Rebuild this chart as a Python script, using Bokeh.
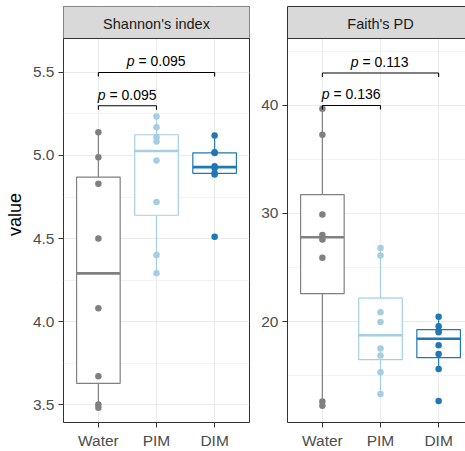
import numpy as np
from bokeh.plotting import figure
from bokeh.layouts import row
from bokeh.models import Range1d, FixedTicker, LinearAxis, NumeralTickFormatter
from bokeh.core.properties import value
from bokeh.embed import file_html
from bokeh.resources import INLINE

# ---- data -------------------------------------------------------------
groups = ["Water", "PIM", "DIM"]
group_colors = ["#808080", "#A6CEE3", "#1F78B4"]

shannon_water = [5.14, 4.99, 4.83, 4.50, 4.08, 3.67, 3.50, 3.48]
shannon_pim = [5.235, 5.17, 5.11, 5.085, 4.97, 4.72, 4.40, 4.29]
shannon_dim = [5.12, 5.02, 5.015, 4.935, 4.925, 4.895, 4.885, 4.51]

faith_water = [39.7, 37.3, 29.9, 28.0, 27.6, 25.9, 12.6, 12.2]
faith_pim = [26.8, 26.1, 20.85, 19.95, 17.5, 16.85, 15.3, 13.3]
faith_dim = [20.45, 19.55, 19.15, 19.0, 17.8, 17.0, 15.6, 12.65]

comparisons = [("Water", "PIM"), ("Water", "DIM")]
shannon_pvalues = ["0.095", "0.095"]
faith_pvalues = ["0.136", "0.113"]

shannon_ticks = [3.5, 4.0, 4.5, 5.0, 5.5]
shannon_minor = [3.75, 4.25, 4.75, 5.25]
faith_ticks = [20, 30, 40]
faith_minor = [15, 25, 35, 45]

# ---- layout / style ---------------------------------------------------
FONT = "Liberation Sans"
H = 451
TOP, BOTTOM = 6, 29
STRIP_H = 32
PANEL_H = H - TOP - BOTTOM - STRIP_H
X0, X1 = 0.4, 3.6
BORDER = "#333333"
GRID = "#EBEBEB"

panels = [
    dict(title="Shannon's index", series=[shannon_water, shannon_pim, shannon_dim],
         ticks=shannon_ticks, minor=shannon_minor, fmt="0.0", ylim=(3.3916, 5.7048),
         brackets=[5.30, 5.50], pvalues=shannon_pvalues,
         width=250, left=63, right=1, ylabel="value"),
    dict(title="Faith's PD", series=[faith_water, faith_pim, faith_dim],
         ticks=faith_ticks, minor=faith_minor, fmt="0", ylim=(10.65, 46.2),
         brackets=[40.0, 43.0], pvalues=faith_pvalues,
         width=215, left=37, right=0, ylabel=None),
]

px_per_x = (panels[0]["width"] - panels[0]["left"] - panels[0]["right"]) / (X1 - X0)


def box_stats(vals):
    v = np.sort(np.asarray(vals, dtype=float))
    q1, med, q3 = np.percentile(v, [25, 50, 75])
    iqr = q3 - q1
    lo = v[v >= q1 - 1.5 * iqr].min()
    hi = v[v <= q3 + 1.5 * iqr].max()
    return q1, med, q3, lo, hi


def style_axis(ax):
    ax.major_tick_line_color = BORDER
    ax.major_tick_line_width = 1
    ax.major_tick_out = 5
    ax.major_tick_in = 0
    ax.minor_tick_out = 0
    ax.minor_tick_in = 0
    ax.major_label_text_font = FONT
    ax.major_label_text_font_size = "15.5px"
    ax.major_label_text_color = "#4D4D4D"
    ax.major_label_standoff = 4


def line_only_axis():
    return LinearAxis(ticker=FixedTicker(ticks=[]), major_tick_out=0, major_tick_in=0,
                      minor_tick_out=0, minor_tick_in=0, major_label_standoff=0,
                      major_label_text_font_size="0px", axis_line_color=BORDER,
                      axis_line_width=1)


def make_panel(cfg, clipped_right):
    ylo, yhi = cfg["ylim"]
    per_px = (yhi - ylo) / PANEL_H
    ytop = yhi + STRIP_H * per_px
    frame_w = cfg["width"] - cfg["left"] - cfg["right"]
    xend = X0 + frame_w / px_per_x

    p = figure(width=cfg["width"], height=H, output_backend="svg", toolbar_location=None,
               x_range=Range1d(X0, xend), y_range=Range1d(ylo, ytop),
               min_border_left=cfg["left"], min_border_right=cfg["right"],
               min_border_top=TOP, min_border_bottom=BOTTOM,
               background_fill_color="white", border_fill_color="white")

    # grid
    p.xgrid.ticker = FixedTicker(ticks=[1, 2, 3])
    p.xgrid.grid_line_color = GRID
    p.xgrid.grid_line_width = 1.1
    p.ygrid.ticker = FixedTicker(ticks=cfg["ticks"], minor_ticks=cfg["minor"])
    p.ygrid.grid_line_color = GRID
    p.ygrid.grid_line_width = 1.1
    p.ygrid.minor_grid_line_color = GRID
    p.ygrid.minor_grid_line_width = 0.6

    # axes
    p.xaxis.ticker = FixedTicker(ticks=[1, 2, 3])
    p.xaxis.major_label_overrides = {i + 1: g for i, g in enumerate(groups)}
    p.yaxis.ticker = FixedTicker(ticks=cfg["ticks"], minor_ticks=cfg["minor"])
    p.yaxis.formatter = NumeralTickFormatter(format=cfg["fmt"])
    for ax in (p.xaxis[0], p.yaxis[0]):
        style_axis(ax)
    if cfg["ylabel"]:
        p.yaxis.axis_label = cfg["ylabel"]
        p.yaxis.axis_label_text_font = FONT
        p.yaxis.axis_label_text_font_size = "18px"
        p.yaxis.axis_label_text_font_style = "normal"
        p.yaxis.axis_label_text_color = "black"
        p.yaxis.axis_label_standoff = 5

    if clipped_right:
        p.outline_line_color = None
        p.xaxis.axis_line_color = BORDER
        p.yaxis.axis_line_color = BORDER
        p.add_layout(line_only_axis(), "above")
    else:
        p.outline_line_color = BORDER
        p.outline_line_width = 1
        p.xaxis.axis_line_color = None
        p.yaxis.axis_line_color = None

    # boxplots with points
    half = 0.375
    for i, (vals, c) in enumerate(zip(cfg["series"], group_colors)):
        x = i + 1
        q1, med, q3, lo, hi = box_stats(vals)
        p.segment(x0=[x, x], y0=[q3, q1], x1=[x, x], y1=[hi, lo], line_color=c, line_width=1.2)
        p.quad(left=[x - half], right=[x + half], bottom=[q1], top=[q3],
               fill_color="white", line_color=c, line_width=1.2)
        p.segment(x0=[x - half], y0=[med], x1=[x + half], y1=[med], line_color=c, line_width=2.6)
        p.scatter(x=[x] * len(vals), y=vals, size=6.5, fill_color=c, line_color=c, line_width=0)

    # significance brackets
    tip = 4 * per_px
    for (g1, g2), yb, pv in zip(comparisons, cfg["brackets"], cfg["pvalues"]):
        xa = groups.index(g1) + 1
        xb = groups.index(g2) + 1
        p.segment(x0=[xa, xa, xb], y0=[yb, yb, yb], x1=[xb, xa, xb], y1=[yb, yb - tip, yb - tip],
                  line_color="black", line_width=1.1)
        mid = (xa + xb) / 2
        p.text(x=[mid], y=[yb], text=["p"], text_font=value(FONT), text_font_style="italic",
               text_font_size="14px", text_color="black", text_align="right",
               text_baseline="alphabetic", x_offset=-22, y_offset=-11)
        p.text(x=[mid], y=[yb], text=["= " + pv], text_font=value(FONT),
               text_font_size="14px", text_color="black", text_align="left",
               text_baseline="alphabetic", x_offset=-18, y_offset=-11)

    # facet strip
    p.quad(left=[X0 - 1], right=[X1 + 1], bottom=[yhi], top=[ytop + 10 * per_px],
           fill_color="#D9D9D9", line_color=BORDER, line_width=1)
    p.text(x=[(X0 + X1) / 2], y=[(yhi + ytop) / 2], text=[cfg["title"]],
           text_font=value(FONT), text_font_size="14.5px", text_color="#1A1A1A",
           text_align="center", text_baseline="middle", y_offset=1)
    return p


left = make_panel(panels[0], clipped_right=False)
right = make_panel(panels[1], clipped_right=True)
layout = row(left, right)

open("out.html", "w").write(file_html(layout, INLINE))
